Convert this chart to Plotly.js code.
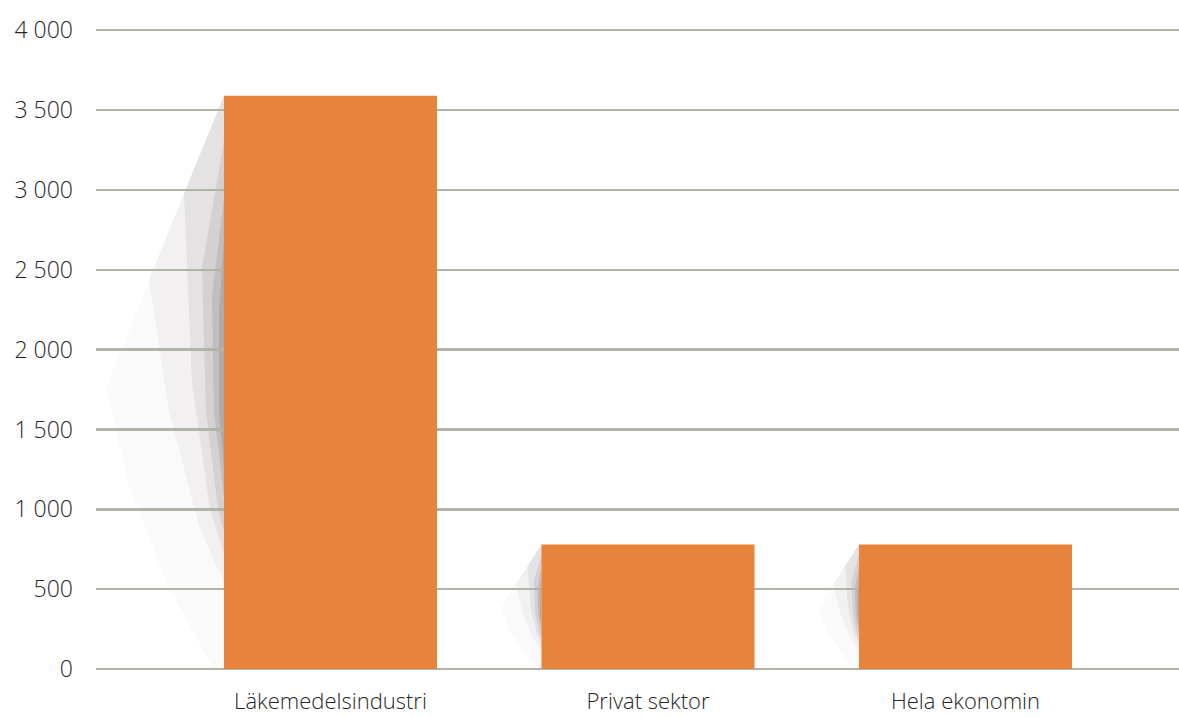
<!DOCTYPE html>
<html>
<head>
<meta charset="utf-8">
<script src="https://cdn.plot.ly/plotly-3.0.1.min.js"></script>
<style>html,body{margin:0;padding:0;background:#fff;}#chart{width:1179px;height:717px;}</style>
</head>
<body>
<div id="chart"></div>
<script>
const categories = ["Läkemedelsindustri", "Privat sektor", "Hela ekonomin"];
const values = [3590, 780, 780];
const yTicks = [0, 500, 1000, 1500, 2000, 2500, 3000, 3500, 4000];

const W = 1179, H = 717;
const margin = {l: 96, r: 0, t: 27, b: 48};
const xRange = [-0.7386, 2.6725];
const yRange = [0, 4020];
const barWidth = 0.671;
const plotW = W - margin.l - margin.r, plotH = H - margin.t - margin.b;
const ux = (xRange[1] - xRange[0]) / plotW;   // category units per px
const uy = (yRange[1] - yRange[0]) / plotH;   // value units per px

// decorative drop shadows derived from bar geometry
// each layer: list of [dx in px (scaled), t fraction from top], alpha
const layers = [
  {pts: [[0, 0], [-118, 0.51], [-95, 0.68], [-55, 0.86], [-10, 1.0], [0, 1.0]], a: 0.025},
  {pts: [[0, 0], [-75, 0.32], [-55, 0.55], [-25, 0.75], [0, 0.85]], a: 0.05},
  {pts: [[0, 0], [-40, 0.17], [-32, 0.5], [-14, 0.72], [0, 0.8]], a: 0.08},
  {pts: [[0, 0.08], [-22, 0.3], [-18, 0.55], [-6, 0.72], [0, 0.76]], a: 0.1},
  {pts: [[0, 0.18], [-12, 0.35], [-10, 0.55], [0, 0.7]], a: 0.13},
  {pts: [[0, 0.25], [-5, 0.38], [-5, 0.55], [0, 0.65]], a: 0.14}
];
const shapes = [];
values.forEach((v, i) => {
  const L = i - barWidth / 2;
  const hpx = v / uy;
  const s = Math.pow(hpx / 573, 0.7);
  layers.forEach(layer => {
    const path = layer.pts.map((p, k) =>
      `${k === 0 ? 'M' : 'L'} ${L + p[0] * s * ux},${v * (1 - p[1])}`).join(' ') + ' Z';
    shapes.push({type: 'path', layer: 'below', xref: 'x', yref: 'y', line: {width: 0},
      fillcolor: `rgba(70,58,58,${layer.a})`, path: path});
  });
});

const trace = {
  type: 'bar',
  x: categories,
  y: values,
  width: barWidth,
  marker: {color: '#E8833B', line: {width: 0}},
  hoverinfo: 'x+y'
};

const tickFont = {family: '"Open Sans", "DejaVu Sans", sans-serif', size: 23, color: '#262626', weight: 300};
const xTickFont = {family: '"Open Sans", "DejaVu Sans", sans-serif', size: 22, color: '#262626', weight: 300};
const layout = {
  width: W, height: H,
  margin: margin,
  paper_bgcolor: '#ffffff',
  plot_bgcolor: 'rgba(0,0,0,0)',
  separators: ', ',
  showlegend: false,
  font: tickFont,
  xaxis: {
    type: 'category',
    range: xRange,
    showgrid: false, zeroline: false, showline: false,
    ticks: '',
    ticklabelstandoff: 17,
    tickfont: xTickFont
  },
  yaxis: {
    range: yRange,
    tickvals: yTicks,
    tickformat: ',d',
    showgrid: true, gridcolor: '#b2b4aa', gridwidth: 2.5,
    zeroline: true, zerolinecolor: '#b2b4aa', zerolinewidth: 2.5,
    showline: false, ticks: '',
    ticklabelstandoff: 22,
    tickfont: tickFont
  },
  shapes: shapes
};

Plotly.newPlot('chart', [trace], layout, {displayModeBar: false, staticPlot: true});
</script>
</body>
</html>
